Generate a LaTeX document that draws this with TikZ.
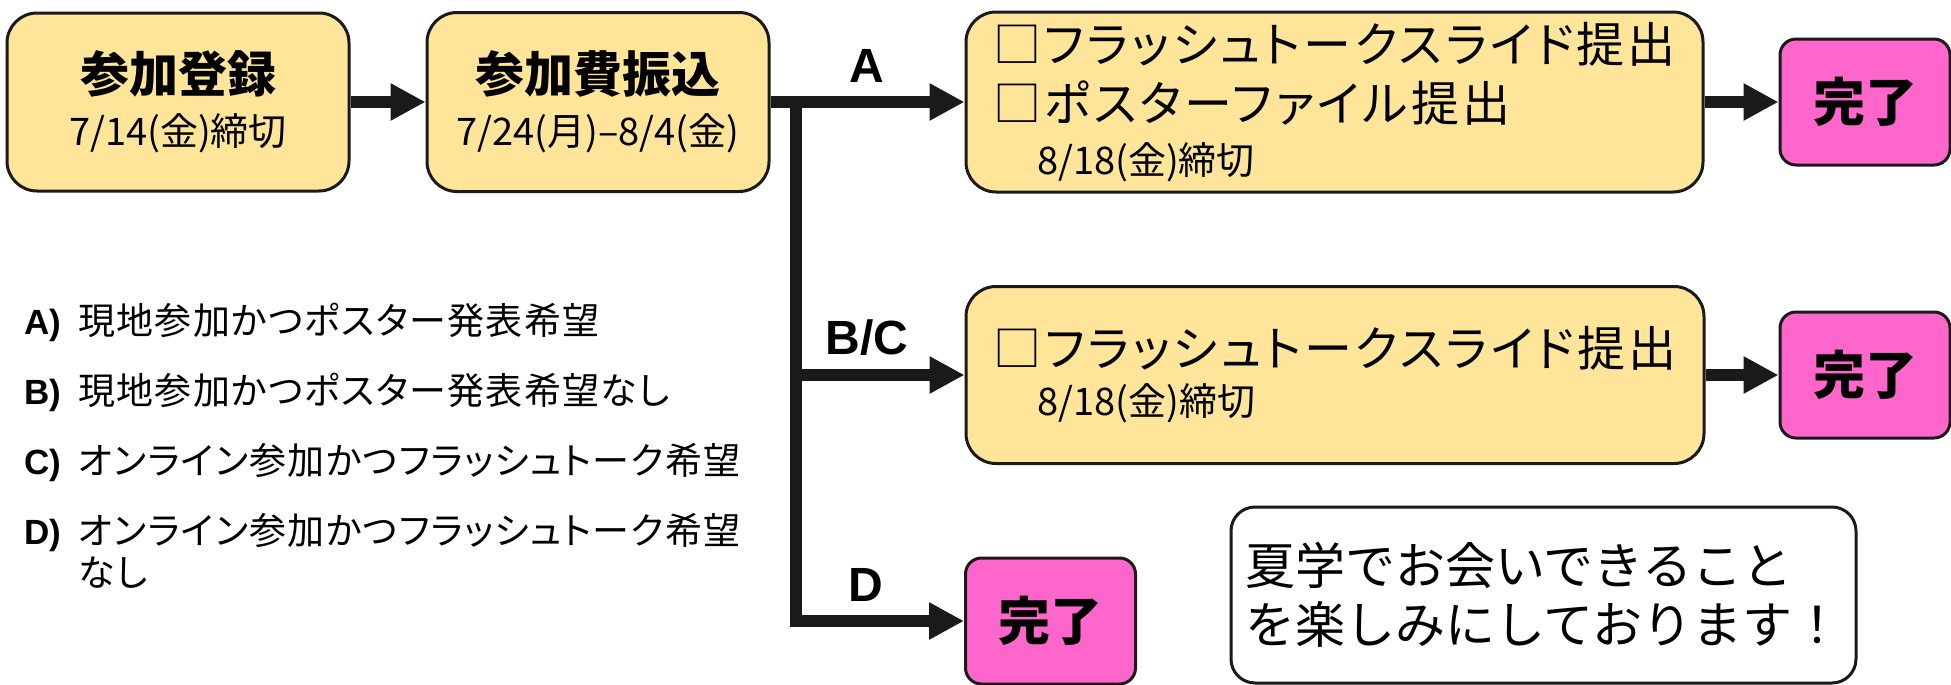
\documentclass[tikz,border=0pt]{standalone}
\usepackage{fontspec}
\setmainfont{Noto Sans CJK JP}
\newfontfamily\propfont{Noto Sans CJK JP}[RawFeature=+palt,LetterSpace=6.5]
\newfontfamily\legfont{Noto Sans CJK JP}[RawFeature=+palt,LetterSpace=3.5]
\newfontfamily\latinfont{Liberation Sans}
\usetikzlibrary{arrows.meta}
\definecolor{ink}{HTML}{1A1A1A}
\definecolor{boxyellow}{HTML}{FFE599}
\definecolor{donepink}{HTML}{FF66CC}
\newcommand{\legitem}[2]{\begin{tabular}[t]{@{}l@{}l@{}}\makebox[27pt][l]{\latinfont\bfseries\fontsize{17.5}{21}\selectfont #1}&#2\end{tabular}}

\begin{document}
\begin{tikzpicture}[x=0.5pt,y=-0.5pt,
  stepbox/.style={draw=ink,line width=1.5pt,fill=boxyellow,rounded corners=15pt,inner sep=0pt,align=center,font=\fontsize{19}{26.5}\selectfont},
  donebox/.style={draw=ink,line width=1.5pt,fill=donepink,rounded corners=8pt,minimum width=85pt,minimum height=63pt,inner sep=0pt,font=\bfseries\fontsize{26}{26}\selectfont},
  flow/.style={ink,line width=6pt,-{Triangle[length=17.5pt,width=17.5pt]}},
  branch/.style={inner sep=0pt,font=\latinfont\bfseries\fontsize{24}{24}\selectfont},
  legend/.style={anchor=base west,inner sep=0pt,font=\legfont\fontsize{18.5}{21}\selectfont}]
  \useasboundingbox (0,0) rectangle (1951,685);

  \node[stepbox,minimum width=171pt,minimum height=89pt] (reg) at (178,102) {{\bfseries\fontsize{24.5}{26.5}\selectfont 参加登録}\\7/14(金)締切};
  \node[stepbox,minimum width=171pt,minimum height=89.5pt] (fee) at (598,102) {{\bfseries\fontsize{24.5}{26.5}\selectfont 参加費振込}\\7/24(月)–8/4(金)};
  \node[stepbox,align=left,minimum width=368.5pt,minimum height=90pt,font=\propfont\fontsize{24}{29.5}\selectfont] (slideA) at (1334.5,102)
    {□フラッシュトークスライド提出\\□ポスターファイル提出\\[-3pt]\hspace*{22pt}{\rmfamily\fontsize{19}{19}\selectfont 8/18(金)締切}};
  \node[stepbox,align=left,minimum width=369pt,minimum height=88.5pt,font=\propfont\fontsize{24}{24.5}\selectfont] (slideBC) at (1335,375)
    {□フラッシュトークスライド提出\\\hspace*{22pt}{\rmfamily\fontsize{19}{19}\selectfont 8/18(金)締切}};
  \node[donebox] (doneA) at (1865,102) {完了};
  \node[donebox] (doneBC) at (1865,375) {完了};
  \node[donebox] (doneD) at (1050.5,621) {完了};
  \node[draw=ink,line width=1.5pt,fill=white,rounded corners=12pt,minimum width=312.5pt,minimum height=88pt,inner sep=0pt,align=left,font=\fontsize{25}{29.5}\selectfont] (msg) at (1543.5,595)
    {夏学でお会いできること\\を楽しみにしております！};

  \node[legend] (legA) at (24,334) {\legitem{A)}{現地参加かつポスター発表希望}};
  \node[legend] (legB) at (24,404) {\legitem{B)}{現地参加かつポスター発表希望なし}};
  \node[legend] (legC) at (24,474) {\legitem{C)}{オンライン参加かつフラッシュトーク希望}};
  \node[legend] (legD) at (24,544) {\legitem{D)}{オンライン参加かつフラッシュトーク希望\\&なし}};

  \draw[flow] (reg) -- (fee);
  \draw[flow] (fee) -- (slideA);
  \coordinate (split) at ([xshift=12.5pt]fee.east);
  \draw[flow] (split) |- (slideBC);
  \draw[flow] (split) |- (doneD);
  \draw[flow] (slideA) -- (doneA);
  \draw[flow] (slideBC) -- (doneBC);

  \node[branch] (lblA) at (867,66) {A};
  \node[branch] (lblBC) at (867,338) {B/C};
  \node[branch] (lblD) at (866,585) {D};
\end{tikzpicture}
\end{document}
